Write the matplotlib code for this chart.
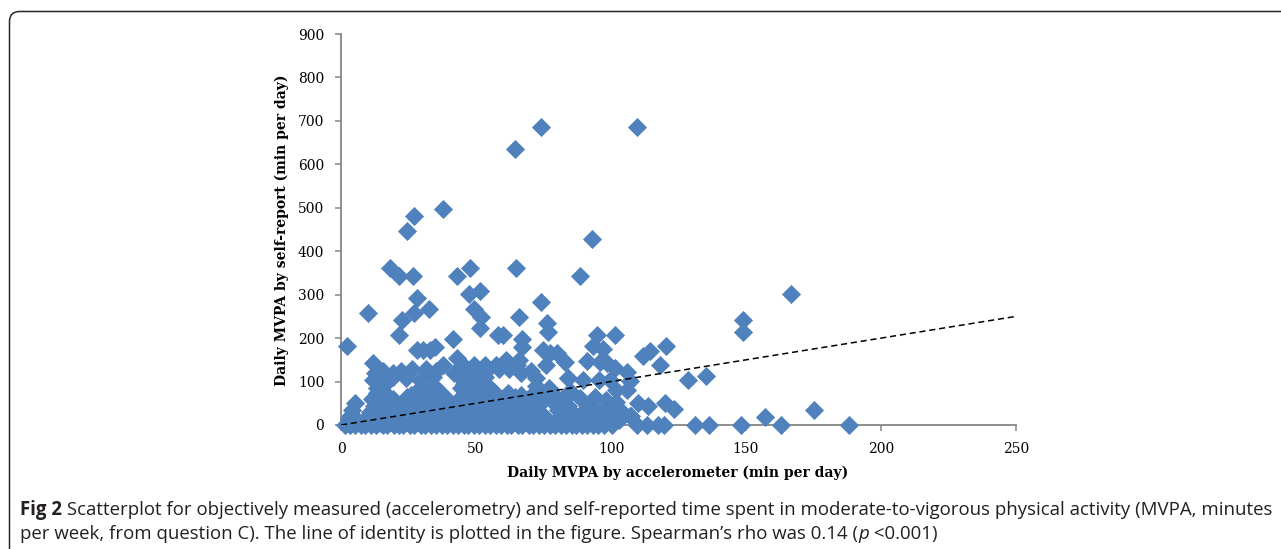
import matplotlib
matplotlib.use('Agg')
import matplotlib.pyplot as plt
from matplotlib.patches import FancyBboxPatch
from matplotlib.transforms import IdentityTransform

# daily MVPA, accelerometer (x) vs self-report (y), min per day
accel = [
    # bottom row, self-report 0
    1.5, 3.2, 5.1, 7.3, 9.0, 11.2, 13.1, 15.4, 17.2, 19.5,
    21.3, 23.1, 25.4, 27.2, 29.5, 31.1, 33.4, 35.2, 37.5, 39.1,
    41.4, 43.2, 45.5, 47.1, 49.4, 51.2, 53.5, 55.1, 57.4, 59.2,
    61.5, 63.1, 65.4, 67.2, 69.5, 71.1, 73.4, 75.2, 77.5, 79.1,
    81.4, 83.2, 85.5, 87.1, 89.4, 91.2, 93.5, 95.1, 97.4, 100.2,
    # dense cluster
    6.2, 14.5, 22.1, 30.4, 38.2, 46.5, 54.1, 62.4, 70.2, 78.5,
    86.1, 94.4, 18.3, 26.5, 34.1, 42.4, 50.2, 58.5, 66.1, 74.4,
    3.5, 9.2, 15.1, 20.4, 25.2, 30.5, 35.1, 40.4, 45.2, 50.5,
    55.1, 60.4, 65.2, 70.5, 75.1, 82.4, 88.2, 93.5, 100.4, 12.6,
    4.1, 10.8, 16.2, 21.5, 26.3, 31.6, 36.2, 41.5, 46.3, 51.6,
    56.2, 61.5, 66.3, 71.6, 80.2, 85.5, 90.3, 95.6, 104.1, 107.3,
    5.2, 12.1, 17.4, 23.2, 28.5, 33.1, 38.4, 43.2, 48.5, 53.1,
    58.4, 63.2, 68.5, 73.1, 78.9, 84.2, 92.1, 2.8, 100.3, 96.5,
    11.3, 14.6, 19.2, 24.5, 29.1, 34.4, 39.2, 44.5, 49.1, 54.4,
    59.2, 64.5, 69.1, 74.4, 80.2, 94.1, 15.8, 36.7, 56.8, 71.9,
    13.2, 27.4, 32.1, 46.8, 52.3, 61.9, 66.7, 78.1, 83.4, 44.5,
    13.5, 16.4, 30.2, 35.1, 45.6, 50.3, 55.2, 72.4, 76.9, 26.0,
    12.0, 19.3, 24.1, 29.4, 34.2, 44.5, 48.1, 53.4, 72.2, 84.0,
    12.5, 15.6, 19.1, 22.4, 26.2, 31.5, 35.1, 46.3, 50.2, 54.6,
    58.4, 62.1, 66.5, 70.2, 45.1, 49.2, 53.3, 57.4, 61.5, 65.2,
    # scattered points
    2.1, 10.0, 18.0, 21.6, 26.7, 24.4, 27.0, 37.7, 28.2, 32.6,
    27.0, 22.6, 21.5, 43.0, 47.8, 51.5, 47.3, 49.2, 52.0, 51.5,
    41.4, 58.0, 60.0, 64.7, 66.0, 67.0, 67.0, 64.5, 74.0, 109.6,
    93.0, 88.5, 74.0, 76.3, 76.8, 94.8, 101.6, 148.9, 148.9, 166.5,
    120.5, 112.0, 114.4, 118.0, 128.5, 135.0, 93.3, 97.0, 98.5, 91.0,
    83.0, 74.8, 77.4, 80.0, 76.0, 101.5, 106.0, 107.0, 95.6, 99.6,
    89.6, 157.0, 175.0, 163.0, 188.0, 148.3, 136.3, 131.0, 28.0, 30.4,
    33.0, 34.8, 42.8, 37.8, 123.3, 120.0, 113.7, 110.0, 119.5, 117.5,
    113.5, 109.5, 106.0, 102.0, 102.0, 98.0, 98.0, 88.5, 85.0, 96.0,
    104.0, 107.0, 103.0, 100.0, 97.0, 84.0, 61.0, 66.0, 42.0, 12.0,
]
selfrep = [
    0, 0, 0, 0, 0, 0, 0, 0, 0, 0,
    0, 0, 0, 0, 0, 0, 0, 0, 0, 0,
    0, 0, 0, 0, 0, 0, 0, 0, 0, 0,
    0, 0, 0, 0, 0, 0, 0, 0, 0, 0,
    0, 0, 0, 0, 0, 0, 0, 0, 0, 0,
    8.6, 4.3, 8.6, 4.3, 8.6, 4.3, 8.6, 4.3, 8.6, 4.3,
    4.3, 8.6, 12.9, 12.9, 12.9, 12.9, 12.9, 12.9, 12.9, 12.9,
    21.4, 17.1, 21.4, 17.1, 21.4, 17.1, 21.4, 17.1, 21.4, 17.1,
    21.4, 17.1, 21.4, 17.1, 21.4, 17.1, 21.4, 17.1, 21.4, 25.7,
    34.3, 30.0, 34.3, 30.0, 34.3, 30.0, 34.3, 30.0, 34.3, 30.0,
    34.3, 30.0, 34.3, 30.0, 34.3, 30.0, 34.3, 30.0, 30.0, 21.4,
    51.4, 42.9, 51.4, 42.9, 51.4, 42.9, 51.4, 42.9, 51.4, 42.9,
    51.4, 42.9, 51.4, 42.9, 51.4, 42.9, 42.9, 12.9, 12.9, 25.7,
    60.0, 64.3, 60.0, 64.3, 60.0, 64.3, 60.0, 64.3, 60.0, 64.3,
    60.0, 64.3, 60.0, 64.3, 60.0, 64.3, 77.1, 77.1, 77.1, 77.1,
    72.9, 72.9, 68.6, 72.9, 68.6, 72.9, 68.6, 72.9, 68.6, 85.7,
    85.7, 94.3, 90.0, 85.7, 94.3, 90.0, 85.7, 90.0, 85.7, 68.6,
    102.9, 111.4, 107.1, 102.9, 111.4, 107.1, 102.9, 111.4, 107.1, 107.1,
    120.0, 124.3, 120.0, 124.3, 128.6, 128.6, 124.3, 128.6, 128.6, 128.6,
    128.6, 128.6, 120.0, 124.3, 137.1, 137.1, 137.1, 137.1, 137.1, 137.1,
    181, 258, 361, 344, 344, 447, 481, 497, 292, 266,
    258, 242, 207, 344, 361, 309, 302, 267, 249, 224,
    199, 207, 207, 361, 249, 198, 180, 635, 686, 686,
    429, 344, 284, 235, 215, 207, 207, 241, 215, 301,
    181, 158, 170, 138, 104, 113, 181, 174, 143, 148,
    146, 173, 166, 166, 138, 131, 121, 102, 104, 104,
    104, 18, 35, 0, 0, 0, 0, 0, 173, 173,
    173, 180, 154, 138, 36, 51, 44, 51, 0, 0,
    0, 0, 80, 80, 53, 58, 35, 62, 77, 145,
    30, 20, 12, 20, 8, 108, 150, 150, 120, 143,
]

identity = [0, 250]
xticks = [0, 50, 100, 150, 200, 250]
yticks = [0, 100, 200, 300, 400, 500, 600, 700, 800, 900]

W, H = 1281, 549
fig = plt.figure(figsize=(W / 100, H / 100), dpi=100, facecolor='white')
ax = fig.add_axes([341 / W, 1 - 425 / H, 675 / W, 391 / H])

ax.scatter(accel, selfrep, marker='D', s=95, color='#4F81BD', linewidths=0,
           zorder=3, clip_on=False)
ax.plot(identity, identity, ls=(0, (4, 2.5)), color='black', lw=1.1, zorder=4)

ax.set_xlim(0, 250)
ax.set_ylim(0, 900)
ax.set_xticks(xticks)
ax.set_yticks(yticks)
for side in ['top', 'right']:
    ax.spines[side].set_visible(False)
for side in ['left', 'bottom']:
    ax.spines[side].set_color('#868686')
    ax.spines[side].set_linewidth(1.3)
ax.tick_params(direction='out', length=4, width=1.1, color='#868686',
               labelsize=10, pad=8)
for lab in ax.get_xticklabels() + ax.get_yticklabels():
    lab.set_family('DejaVu Serif')

fig.text(678 / W, 1 - 473 / H, 'Daily MVPA by accelerometer (min per day)',
         ha='center', va='center', family='DejaVu Serif', weight='bold', fontsize=10)
fig.text(282 / W, 1 - 230 / H, 'Daily MVPA by self-report (min per day)',
         ha='center', va='center', rotation=90, family='DejaVu Serif',
         weight='bold', fontsize=10)

# rounded frame around the figure panel
frame = FancyBboxPatch((9.5, -60), 1400, 597.5, boxstyle='round,pad=0,rounding_size=10',
                       transform=IdentityTransform(), fill=False, ec='#2a2a2a', lw=1.1)
fig.add_artist(frame)

# caption, drawn piece by piece
fig.canvas.draw()
renderer = fig.canvas.get_renderer()
cap = dict(family='Open Sans', fontsize=13.4, color='#231f20', va='baseline', ha='left',
           transform=IdentityTransform())


def put_line(parts, x, y):
    for txt, extra in parts:
        t = fig.text(x, y, txt, **cap, **extra)
        x = t.get_window_extent(renderer).x1


put_line([('Fig 2', dict(weight='bold')),
          (' Scatterplot for objectively measured (accelerometry) and self-reported time spent '
           'in moderate-to-vigorous physical activity (MVPA, minutes', {})], 20, H - 515)
put_line([('per week, from question C). The line of identity is plotted in the figure. '
           'Spearman\u2019s rho was 0.14 (', {}),
          ('p', dict(style='italic')),
          (' <0.001)', {})], 20, H - 539)

fig.savefig('out.png', dpi=100, facecolor='white')
